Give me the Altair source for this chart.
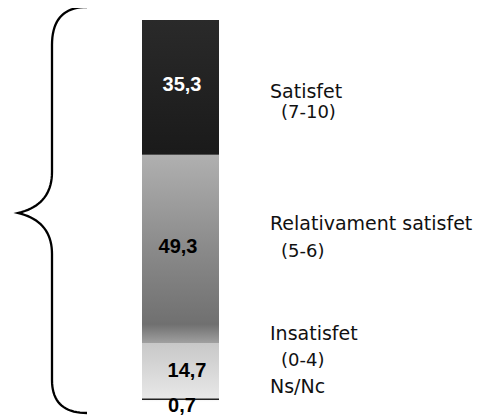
import altair as alt
import numpy as np
import pandas as pd

# ---- data ----
categories = ["Ns/Nc", "Insatisfet", "Relativament satisfet", "Satisfet"]
values = [0.7, 14.7, 49.3, 35.3]
value_labels = ["0,7", "14,7", "49,3", "35,3"]
ranges = ["", "(0-4)", "(5-6)", "(7-10)"]

cum = np.cumsum(values)
df = pd.DataFrame({"cat": categories, "value": values, "label": value_labels,
                   "y0": cum - np.array(values), "y1": cum})

W, H = 470, 410
PX = 3.82  # pixels per percentage point
YMIN = -(H - 394) / PX
YMAX = 100 + 12 / PX
xs = alt.Scale(domain=[0, W])
ys = alt.Scale(domain=[YMIN, YMAX], zero=False, nice=False)

def grad(stops):
    return alt.Gradient(gradient="linear", x1=0, x2=0, y1=0, y2=1,
                        stops=[alt.GradientStop(color=c, offset=o) for c, o in stops])

fills = {
    "Satisfet": grad([("#2a2a2a", 0), ("#1a1a1a", 1)]),
    "Relativament satisfet": grad([("#b0b0b0", 0), ("#8a8a8a", 0.5), ("#707070", 0.9), ("#a0a0a0", 1)]),
    "Insatisfet": grad([("#c8c8c8", 0), ("#e8e8e8", 1)]),
    "Ns/Nc": grad([("#f4f4f4", 0), ("#ffffff", 1)]),
}

layers = []
for c in categories:
    layers.append(
        alt.Chart(df).transform_filter(alt.datum.cat == c).mark_bar(color=fills[c]).encode(
            x=alt.value(134), x2=alt.value(211),
            y=alt.Y("y0:Q", scale=ys, axis=None), y2="y1:Q",
        )
    )

# bottom edge line of the bar
layers.append(
    alt.Chart(df).transform_filter(alt.datum.cat == "Ns/Nc").mark_rule(color="#222", strokeWidth=1.5).encode(
        x=alt.value(134), x2=alt.value(211), y=alt.Y("y1:Q", scale=ys, axis=None)
    )
)

# value labels inside bar
label_px = {"35,3": 85, "49,3": 247, "14,7": 371, "0,7": 406}
label_col = {"35,3": "white", "49,3": "black", "14,7": "black", "0,7": "black"}
label_xpx = {"35,3": 182, "49,3": 178, "14,7": 187, "0,7": 182}
for lab in value_labels:
    layers.append(
        alt.Chart(df).transform_filter(alt.datum.label == lab).mark_text(
            font="Liberation Sans", fontSize=20, fontWeight="bold",
            color=label_col[lab], baseline="middle", align="center"
        ).encode(x=alt.value(label_xpx[lab] - 8), y=alt.value(label_px[lab] - 8), text="label:N")
    )

# category labels on the right (baseline pixel positions)
cat_pos = {"Satisfet": (270, 98, 281, 118),
           "Relativament satisfet": (270, 230, 281, 257),
           "Insatisfet": (270, 340, 281, 366),
           "Ns/Nc": (270, 393, None, None)}
cat_df = pd.DataFrame({"cat": categories, "rng": ranges})
for c, r in zip(categories, ranges):
    x1, y1, x2, y2 = cat_pos[c]
    layers.append(
        alt.Chart(cat_df).transform_filter(alt.datum.cat == c).mark_text(
            font="DejaVu Sans", fontSize=19, color="#111", align="left", baseline="alphabetic"
        ).encode(x=alt.value(x1 - 8), y=alt.value(y1 - 8), text="cat:N")
    )
    if r:
        layers.append(
            alt.Chart(cat_df).transform_filter(alt.datum.cat == c).mark_text(
                font="DejaVu Sans", fontSize=18, color="#111", align="left", baseline="alphabetic"
            ).encode(x=alt.value(x2 - 8), y=alt.value(y2 - 8), text="rng:N")
        )

# curly brace spanning the whole bar (built from the stack total)
total = float(sum(values))
def py(p):  # page pixel y -> data units
    return (402 - p) / 382.0 * total
def qb(p0, p1, p2, n=20):
    t = np.linspace(0, 1, n)[:, None]
    return (1 - t) ** 2 * np.array(p0) + 2 * (1 - t) * t * np.array(p1) + t ** 2 * np.array(p2)
segs = [
    qb((79, py(7)), (44, py(7)), (44, py(45))),
    np.array([(44, py(45)), (44, py(172))]),
    qb((44, py(172)), (44, py(205)), (10, py(213))),
    qb((10, py(213)), (44, py(221)), (44, py(254))),
    np.array([(44, py(254)), (44, py(380))]),
    qb((44, py(380)), (44, py(413)), (79, py(413))),
]
pts = np.vstack(segs)
brace_df = pd.DataFrame({"bx": pts[:, 0], "by": pts[:, 1], "i": np.arange(len(pts))})
layers.append(
    alt.Chart(brace_df).mark_line(color="black", strokeWidth=2.3).encode(
        x=alt.X("bx:Q", scale=xs, axis=None),
        y=alt.Y("by:Q", scale=ys, axis=None),
        order="i:Q",
    )
)

chart = alt.layer(*layers).properties(
    width=W, height=H, autosize=alt.AutoSizeParams(type="none"), padding=0
).configure_view(stroke=None)

chart.save("out.html", embed_options={"renderer": "svg", "actions": False})
